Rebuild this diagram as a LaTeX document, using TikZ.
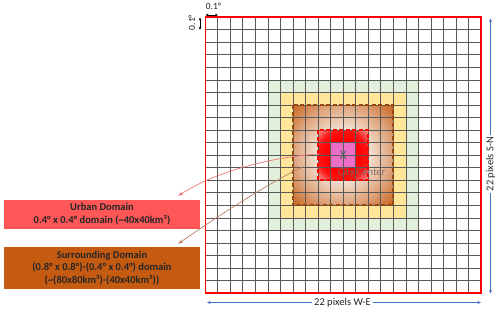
\documentclass[tikz,border=0pt]{standalone}
\usepackage{fontspec}
\setmainfont{Carlito}
\usetikzlibrary{arrows.meta,calc}
\definecolor{gridgreen}{HTML}{E2EFDA}
\definecolor{gridyellow}{HTML}{FFE699}
\definecolor{urbanbox}{HTML}{FF5757}
\definecolor{surrbox}{HTML}{C55A11}
\definecolor{surrdash}{HTML}{974712}
\definecolor{pinkc}{HTML}{EC6EC6}
\definecolor{dimblue}{HTML}{4472C4}
\definecolor{urbanline}{HTML}{F07878}
\definecolor{surrline}{HTML}{B88068}
\definecolor{citytext}{HTML}{806A64}
\definecolor{xmark}{HTML}{4F6066}
\definecolor{txt}{HTML}{262626}
\tikzset{
  gridline/.style={draw=black!65, line width=0.75pt},
  domainbox/.style={rectangle, inner sep=0pt, minimum width=196pt, text=txt,
    font=\fontsize{10.5}{12.8}\selectfont\bfseries, align=center},
  dimarrow/.style={{Stealth[length=3pt,width=2.6pt]}-{Stealth[length=3pt,width=2.6pt]}, line width=0.6pt},
  bluedim/.style={{Stealth[length=3.5pt,width=3pt]}-{Stealth[length=3.5pt,width=3pt]}, draw=dimblue, line width=0.6pt},
  dimlabel/.style={font=\fontsize{10.5}{12}\selectfont, text=txt, fill=white, inner sep=2pt},
  smalllabel/.style={font=\fontsize{9.5}{11}\selectfont, text=txt, inner sep=0pt},
  connector/.style={-{Stealth[length=5pt,width=3.6pt]}, line width=0.7pt},
  domaindash/.style={line width=1.8pt, dash pattern=on 4pt off 2.5pt}
}
\begin{document}
\begin{tikzpicture}[x=1pt,y=-1pt]
\useasboundingbox (0,0) rectangle (500,312);
\begin{scope}[shift={(205.2,17.2)}, x=12.545pt, y=-12.545pt]
  \fill[gridgreen] (5,5) rectangle (17,17);
  \fill[gridyellow] (6,6) rectangle (16,16);
  % surrounding domain: radial gradient built from concentric discs
  \begin{scope}
    \clip (7,7) rectangle (15,15);
    \foreach \k in {40,39,...,1} {
      \pgfmathsetmacro\rr{5.657*\k/40}
      \pgfmathsetmacro\pct{\rr<2 ? 84 : (\rr<4 ? 84-(\rr-2)*19.5 : 45-(\rr-4)*22.9)}
      \fill[white!\pct!surrbox] (11,11) circle (\rr);
    }
  \end{scope}
  % urban domain
  \begin{scope}
    \clip (9,9) rectangle (13,13);
    \foreach \k in {30,29,...,1} {
      \pgfmathsetmacro\rr{2.829*\k/30}
      \pgfmathsetmacro\pct{\rr<1.4 ? 100 : (\rr<2 ? 100-(\rr-1.4)*13 : 92-(\rr-2)*60)}
      \fill[red!\pct!white] (11,11) circle (\rr);
    }
  \end{scope}
  \fill[pinkc] (10,10) rectangle (12,12);
  \foreach \i in {1,...,21} {
    \draw[gridline] (\i,0) -- (\i,22);
    \draw[gridline] (0,\i) -- (22,\i);
  }
  \draw[surrdash, domaindash] (7,7) rectangle (15,15);
  \draw[red, domaindash] (9,9) rectangle (13,13);
  \draw[red, line width=1.4pt] (0,0) rectangle (22,22);
  \node[font=\fontsize{13}{13}\selectfont, text=xmark, inner sep=0pt] (xc) at (11,11.05) {X};
  \node[font=\fontsize{10.5}{12}\selectfont, text=citytext, inner sep=0pt] (cc) at (12.48,12.4) {City Center};
  \coordinate (ustart) at (9.1,10.9);
  \coordinate (sstart) at (7.75,11.95);
\end{scope}
% dimension marks
\draw[dimarrow] (205.6,15) coordinate (ta) -- (218,15) coordinate (tb);
\node[smalllabel] (toplab) at (213.5,6.5) {0.1°};
\draw[dimarrow] (200,17.6) coordinate (la) -- (200,29.8) coordinate (lb);
\node[smalllabel, rotate=90] (leftlab) at (192,22.5) {0.1°};
\coordinate (bl) at (207,302.5);
\coordinate (br) at (481,302.5);
\draw[bluedim] (bl) -- (br);
\node[dimlabel] (welab) at (342.5,302.5) {22 pixels W-E};
\coordinate (rt) at (490.5,18.5);
\coordinate (rb) at (490.5,293.5);
\draw[bluedim] (rt) -- (rb);
\node[dimlabel, rotate=90] (snlab) at (490.5,164) {22 pixels S-N};
% boxes
\node[domainbox, fill=urbanbox, minimum height=29pt] (ubox) at (102,214.5)
  {Urban Domain\\0.4° x 0.4° domain (\textasciitilde 40x40km²)};
\node[domainbox, fill=surrbox, minimum height=42pt] (sbox) at (102,268)
  {Surrounding Domain\\(0.8° x 0.8°)-(0.4° x 0.4°) domain\\(\textasciitilde (80x80km²)-(40x40km²))};
\coordinate (uend) at ($(ubox.north east)+(-22,-4)$);
\coordinate (send) at ($(sbox.north east)+(-22,-3)$);
% connectors
\draw[connector, urbanline] (ustart) .. controls (270,157) and (215,172) .. (uend);
\draw[connector, surrline] (sstart) .. controls (270,182) and (215,218) .. (send);
\end{tikzpicture}
\end{document}
